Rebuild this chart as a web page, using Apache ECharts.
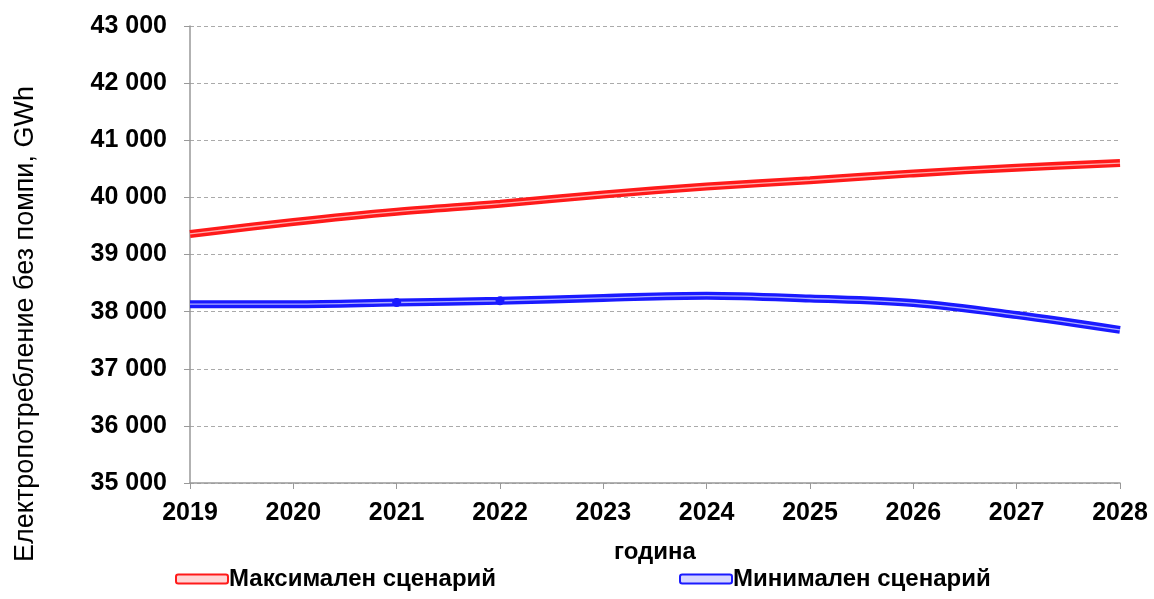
<!DOCTYPE html>
<html>
<head>
<meta charset="utf-8">
<script src="https://cdn.jsdelivr.net/npm/echarts@6/dist/echarts.min.js"></script>
<style>
html,body{margin:0;padding:0;background:#fff;}
#c{width:1154px;height:599px;}
</style>
</head>
<body>
<div id="c"></div>
<script>
const years = ['2019','2020','2021','2022','2023','2024','2025','2026','2027','2028'];
const maxScenario = [39360, 39570, 39750, 39890, 40050, 40190, 40300, 40420, 40520, 40600];
const minScenario = [38130, 38130, 38160, 38190, 38240, 38280, 38230, 38150, 37940, 37680];
const minMarkerYears = ['2021', '2022'];
const yTicks = [35000, 36000, 37000, 38000, 39000, 40000, 41000, 42000, 43000];

const FONT = '"Liberation Sans", Arial, sans-serif';
const RED = '#ff1a1a';
const BLUE = '#1a1aff';

function fmt(v){ return String(v).replace(/\B(?=(\d{3})+(?!\d))/g, ' '); }

const chart = echarts.init(document.getElementById('c'));
chart.setOption({
  animation: false,
  backgroundColor: '#fff',
  grid: { left: 190, right: 34, top: 26, bottom: 116 },
  legend: [
    {
      data: ['Максимален сценарий'], left: 170, top: 562,
      itemWidth: 52, itemHeight: 9, itemGap: 4, icon: 'roundRect',
      textStyle: { fontFamily: FONT, fontSize: 24, fontWeight: 'bold', color: '#000', padding: [0,0,0,-4] }
    },
    {
      data: ['Минимален сценарий'], left: 674, top: 562,
      itemWidth: 52, itemHeight: 9, itemGap: 4, icon: 'roundRect',
      textStyle: { fontFamily: FONT, fontSize: 24, fontWeight: 'bold', color: '#000', padding: [0,0,0,-4] }
    }
  ],
  graphic: [{
    type: 'text', x: 26, y: 324, rotation: Math.PI / 2,
    style: {
      text: 'Електропотребление без помпи, GWh',
      font: '27px ' + FONT, fill: '#000',
      align: 'center', verticalAlign: 'middle'
    }
  }],
  xAxis: {
    type: 'category', data: years, boundaryGap: false,
    name: 'година', nameLocation: 'middle', nameGap: 57,
    nameTextStyle: { fontFamily: FONT, fontSize: 24, fontWeight: 'bold', color: '#000' },
    axisLine: { lineStyle: { color: '#999', width: 1.5 } },
    axisTick: { show: true, length: 6, lineStyle: { color: '#999' } },
    axisLabel: { fontFamily: FONT, fontSize: 25, fontWeight: 'bold', color: '#000', margin: 18 },
    splitLine: { show: false }
  },
  yAxis: {
    type: 'value', min: 35000, max: 43000, interval: 1000,
    axisLine: { show: true, lineStyle: { color: '#999', width: 1.5 } },
    axisTick: { show: true, length: 6, lineStyle: { color: '#999' } },
    axisLabel: {
      fontFamily: FONT, fontSize: 25, fontWeight: 'bold', color: '#000', margin: 23,
      formatter: v => yTicks.includes(v) ? fmt(v) : ''
    },
    splitLine: { show: true, lineStyle: { color: '#aaa', type: [4, 3], width: 1 } }
  },
  series: [
    {
      name: 'Максимален сценарий', type: 'line', data: maxScenario, smooth: 0.35,
      symbol: 'none', lineStyle: { color: RED, width: 8 },
      itemStyle: { color: '#ffd6d6', borderColor: RED, borderWidth: 2 }, z: 2
    },
    {
      name: 'max-core', type: 'line', data: maxScenario, smooth: 0.35,
      symbol: 'none', lineStyle: { color: 'rgba(255,190,190,0.9)', width: 1.3 }, z: 3, silent: true
    },
    {
      name: 'Минимален сценарий', type: 'line', data: minScenario, smooth: 0.35,
      symbol: 'none', lineStyle: { color: BLUE, width: 8 },
      itemStyle: { color: '#d6d6ff', borderColor: BLUE, borderWidth: 2 }, z: 2
    },
    {
      name: 'min-core', type: 'line', smooth: 0.35, showSymbol: true, symbol: 'none',
      data: minScenario.map((v, i) => minMarkerYears.includes(years[i])
        ? { value: v, symbol: 'circle', symbolSize: 9, itemStyle: { color: BLUE, borderWidth: 0 } }
        : v),
      lineStyle: { color: 'rgba(190,190,255,0.9)', width: 1.3 }, z: 3, silent: true
    }
  ]
});
</script>
</body>
</html>
